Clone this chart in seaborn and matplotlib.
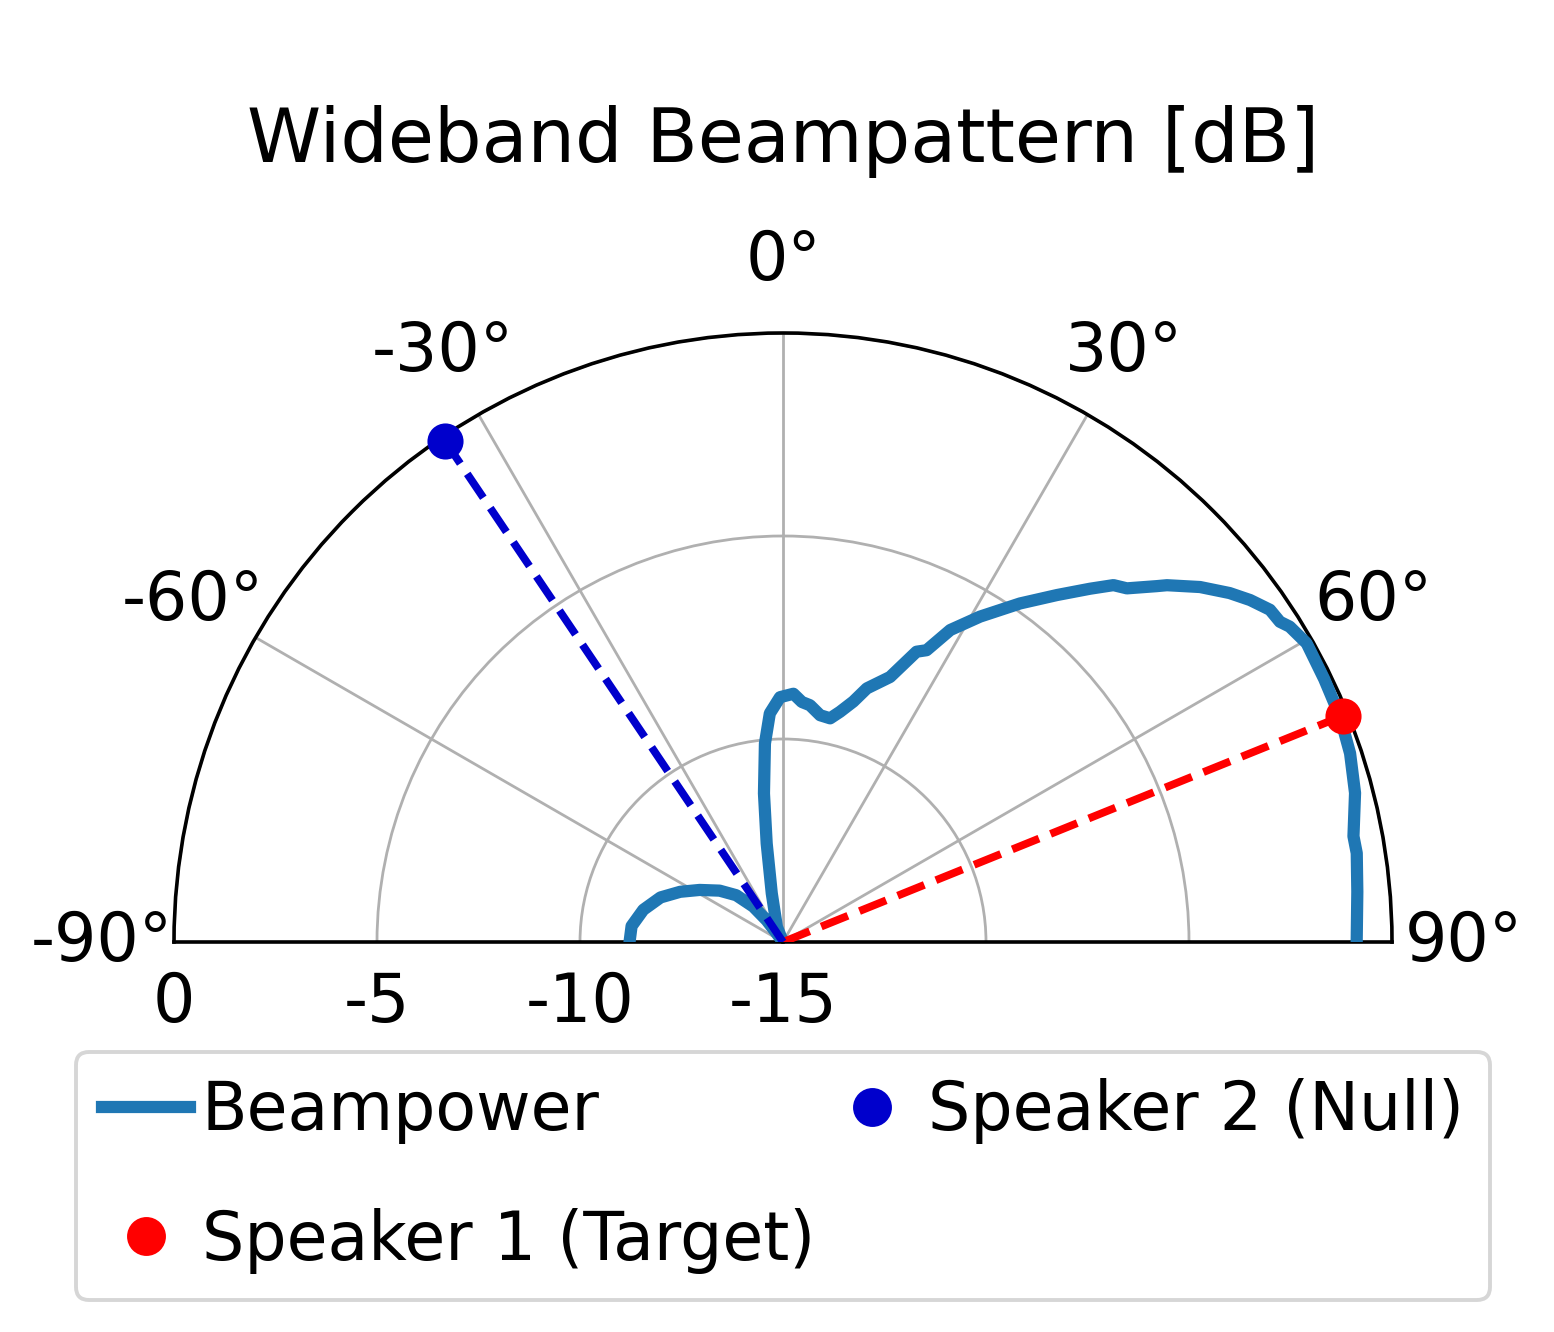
import numpy as np
import matplotlib
matplotlib.use("Agg")
import matplotlib.pyplot as plt
from matplotlib.lines import Line2D
import seaborn as sns

# ---- data ----
beam_theta_deg = [-90, -84, -77, -70, -64, -58, -51, -45, -40, -37, -36, -35, -30, -25,
                  -22, -13, -9.4, -7.3, -5.2, -3.3, -0.7, 2.4, 4.5, 6.5, 9.3, 11.9,
                  13.9, 16.3, 18.3, 22, 24.7, 26.2, 28.2, 31.2, 35, 38.3, 41, 42.8,
                  44.2, 46.4, 47.1, 49.6, 52, 53.8, 55.7, 57.2, 58.1, 60.3, 64.1,
                  68, 71.6, 75.4, 79.5, 81.2, 85, 90]
beam_db = [-11.22, -11.25, -11.47, -11.79, -12.18, -12.58, -12.99, -13.37, -13.86,
           -14.33, -14.74, -15.0, -15.0, -15.0, -14.6, -13.77, -12.54, -11.31,
           -10.09, -9.36, -8.97, -8.88, -9.07, -9.13, -9.34, -9.37, -9.16, -8.83,
           -8.42, -7.96, -7.13, -6.99, -6.28, -5.63, -4.82, -4.11, -3.47, -3.02,
           -2.85, -2.29, -2.09, -1.51, -1.04, -0.74, -0.48, -0.44, -0.30, -0.15,
           -0.18, -0.20, -0.28, -0.44, -0.71, -0.70, -0.80, -0.87]
speaker_labels = ["Speaker 1 (Target)", "Speaker 2 (Null)"]
speaker_theta_deg = [68, -34]
speaker_db = [-0.12, -0.12]
speaker_colors = ["#ff0000", "#0000cc"]
r_ticks = [0, -5, -10, -15]
r_tick_labels = ["0", "-5", "-10", "-15"]
theta_ticks = [-90, -60, -30, 0, 30, 60, 90]
theta_tick_labels = ["-90°", "-60°", "-30°", "0°", "30°", "60°", "90°"]
rmin, rmax = -15, 0

W, H, DPI = 1554, 1332, 200
fig = plt.figure(figsize=(W / DPI, H / DPI), dpi=DPI)
# the half disc (1218 x 609 px) is centred inside a square box of side 1218 px
cx, top, R = 783, 333, 609
box_top = (top + R / 2) - R
ax = fig.add_axes([(cx - R) / W, (H - (box_top + 2 * R)) / H, 2 * R / W, 2 * R / H],
                  projection="polar")
ax.set_theta_zero_location("N")
ax.set_theta_direction(-1)
ax.set_thetamin(-90)
ax.set_thetamax(90)

sns.lineplot(x=np.deg2rad(beam_theta_deg), y=beam_db, ax=ax, sort=False,
             estimator=None, color="#1f77b4", linewidth=4.4, label="Beampower",
             zorder=3, legend=False)

for lab, th, db, col in zip(speaker_labels, speaker_theta_deg, speaker_db, speaker_colors):
    t = np.deg2rad(th)
    sns.lineplot(x=[t, t], y=[rmin, db], ax=ax, color=col, linestyle="--",
                 linewidth=2.8, zorder=4, estimator=None, sort=False, legend=False)
    ax.plot([t], [db], "o", color=col, markersize=12, label=lab, zorder=5,
            clip_on=False)

ax.set_rlim(rmin, rmax)
ax.set_rticks(r_ticks)
ax.set_yticklabels(r_tick_labels)
ax.set_thetagrids(theta_ticks, theta_tick_labels)
ax.tick_params(axis="x", labelsize=24, pad=15.5)
ax.tick_params(axis="y", labelsize=24, pad=6.5)
ax.grid(True, color="#b0b0b0", linewidth=1.0)
ax.spines["polar"].set_linewidth(1.3)
for s in ["start", "end"]:
    ax.spines[s].set_linewidth(1.3)

fig.text(cx / W, 1 - 142 / H, "Wideband Beampattern [dB]", ha="center", va="center",
         fontsize=27)

beam_handle = Line2D([], [], color="#1f77b4", linewidth=4.4)
spk_handles = [Line2D([], [], color=c, marker="o", linestyle="none", markersize=13)
               for c in speaker_colors]
leg = fig.legend([beam_handle, spk_handles[0], spk_handles[1]],
                 ["Beampower", speaker_labels[0], speaker_labels[1]],
                 loc="center", bbox_to_anchor=(cx / W, 1 - 1176 / H), ncol=2,
                 fontsize=24, handlelength=1.31, handletextpad=0.18,
                 columnspacing=0.2, labelspacing=0.95, fancybox=True)
leg.get_frame().set_linewidth(1.4)
fig.savefig("out.png", dpi=DPI)
